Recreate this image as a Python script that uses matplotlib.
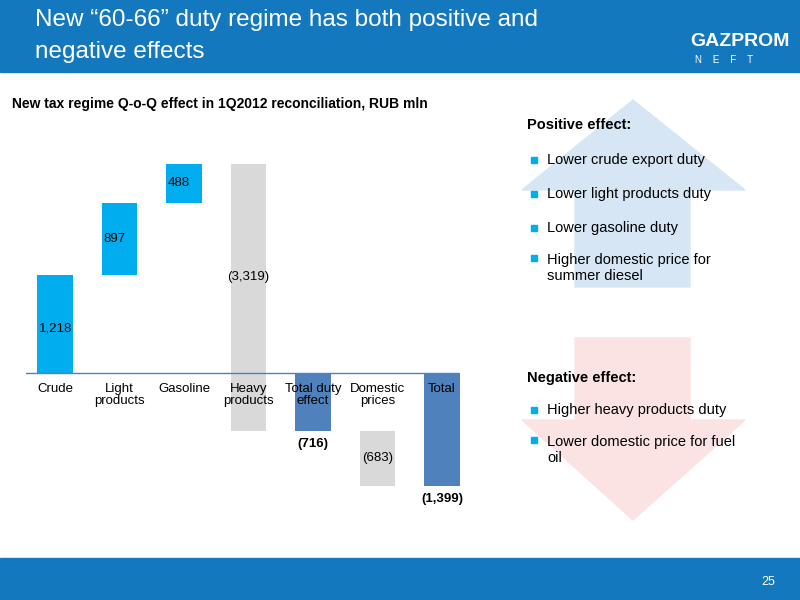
import matplotlib
matplotlib.use("Agg")
import matplotlib.pyplot as plt
from matplotlib.patches import Rectangle, Polygon

plt.rcParams['font.family'] = ['Liberation Sans', 'DejaVu Sans']

categories = ["Crude", "Light\nproducts", "Gasoline", "Heavy\nproducts", "Total duty\neffect", "Domestic\nprices", "Total"]
values = [1218, 897, 488, -3319, -716, -683, -1399]
labels = ["1,218", "897", "488", "(3,319)", "(716)", "(683)", "(1,399)"]
kinds = ["pos", "pos", "pos", "neg", "total", "neg", "total"]
colors = {"pos": "#00AEEF", "neg": "#D9D9D9", "total": "#4F81BD"}

W, H = 800, 600
fig = plt.figure(figsize=(8, 6), dpi=100)
fig.patch.set_facecolor("white")

def fx(x): return x / W
def fy(y): return 1 - y / H

fig.patches.append(Rectangle((0, fy(72)), 1, 72 / H, transform=fig.transFigure, color="#1478BE", zorder=0))
fig.patches.append(Rectangle((0, 0), 1, 42 / H, transform=fig.transFigure, color="#1478BE", zorder=0))
fig.text(fx(35), fy(20), "New \u201c60-66\u201d duty regime has both positive and", color="white", fontsize=17.5, va="center")
fig.text(fx(35), fy(52), "negative effects", color="white", fontsize=17.5, va="center")
fig.text(fx(690), fy(42), "GAZPROM", color="white", fontsize=14, fontweight="bold", va="center")
fig.text(fx(695), fy(60), "N    E    F    T", color="white", fontsize=7, va="center")
fig.text(fx(775), fy(582), "25", color="white", fontsize=9, ha="right", va="center")

up = Polygon([(fx(522), fy(190)), (fx(633), fy(100)), (fx(745), fy(190)), (fx(690), fy(190)),
              (fx(690), fy(287)), (fx(575), fy(287)), (fx(575), fy(190))],
             closed=True, transform=fig.transFigure, color="#D6E6F4", zorder=0)
down = Polygon([(fx(575), fy(338)), (fx(690), fy(338)), (fx(690), fy(420)), (fx(745), fy(420)),
                (fx(633), fy(520)), (fx(522), fy(420)), (fx(575), fy(420))],
               closed=True, transform=fig.transFigure, color="#FBE3E3", zorder=0)
fig.patches.extend([up, down])

def bullet(t, y):
    fig.patches.append(Rectangle((fx(531), fy(y + 3)), 6 / W, 6 / H, transform=fig.transFigure, color="#00AEEF"))
    fig.text(fx(547), fy(y), t, fontsize=10.5, va="top" if "\n" in t else "center", linespacing=1.15)

fig.text(fx(527), fy(125), "Positive effect:", fontsize=10.5, fontweight="bold", va="center")
bullet("Lower crude export duty", 160)
bullet("Lower light products duty", 194)
bullet("Lower gasoline duty", 228)
fig.text(fx(547), fy(258), "Higher domestic price for\nsummer diesel", fontsize=10.5, va="center", linespacing=1.15, ma="left")
fig.patches.append(Rectangle((fx(531), fy(261)), 6 / W, 6 / H, transform=fig.transFigure, color="#00AEEF"))
fig.texts[-1].set_y(fy(268))

fig.text(fx(527), fy(378), "Negative effect:", fontsize=10.5, fontweight="bold", va="center")
bullet("Higher heavy products duty", 410)
fig.text(fx(547), fy(450), "Lower domestic price for fuel\noil", fontsize=10.5, va="center", linespacing=1.15)
fig.patches.append(Rectangle((fx(531), fy(443)), 6 / W, 6 / H, transform=fig.transFigure, color="#00AEEF"))

fig.text(fx(12), fy(104), "New tax regime Q-o-Q effect in 1Q2012 reconciliation, RUB mln",
         fontsize=10, fontweight="bold", va="center")

ax = fig.add_axes([fx(26), fy(510), (471 - 26) / W, (510 - 156) / H])
ax.set_xlim(-0.45, 6.45)
ax.set_ylim(-1700, 2700)
ax.axis("off")
ax.patch.set_alpha(0)

cum = 0
for i, (v, k) in enumerate(zip(values, kinds)):
    if k == "total":
        bottom = 0
    else:
        bottom = cum
        cum += v
    if k == "total":
        cum = v
    ax.bar(i, v, bottom=bottom, width=0.55, color=colors[k])
    lo, hi = min(bottom, bottom + v), max(bottom, bottom + v)
    if k == "pos":
        ax.text(i - 0.25, (lo + hi) / 2 + (-50 if i == 0 else 0), labels[i], fontsize=9.5, va="center", ha="left")
    elif k == "neg":
        ax.text(i, (lo + hi) / 2 + (250 if i == 3 else 0), labels[i], fontsize=9.5, va="center", ha="center")
    else:
        ax.text(i, lo - 160, labels[i], fontsize=9.5, fontweight="bold", va="center", ha="center")
    ax.text(i, -120, categories[i], fontsize=9.5, ha="center", va="top", linespacing=1.0)

ax.axhline(0, xmin=0.0, xmax=0.97, color="#4F81BD", lw=1)

fig.savefig("out.png", dpi=100)
